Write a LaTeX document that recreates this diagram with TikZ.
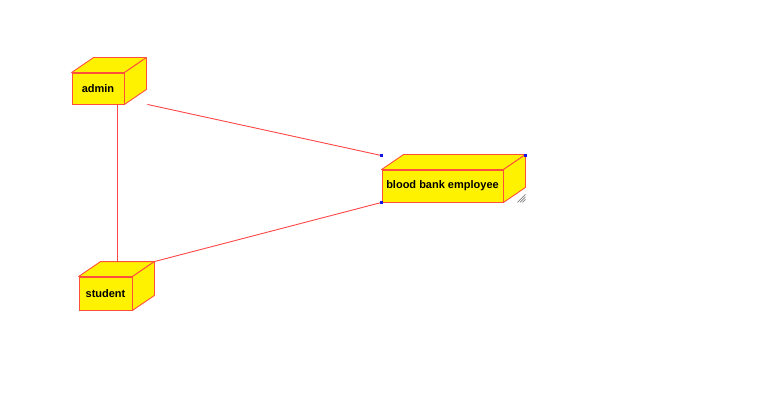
\documentclass[tikz,border=0pt]{standalone}
\usepackage{fontspec}
\setmainfont{Liberation Sans}
\begin{document}
\begin{tikzpicture}[x=1pt,y=-1pt,
  boxred/.style={draw={rgb,255:red,255;green,80;blue,60}},
  nodebox/.style={boxred, fill=yellow, line width=0.9pt, font=\fontsize{11}{13}\selectfont\bfseries, inner sep=0pt},
  face/.style={boxred, fill=yellow, line width=0.9pt, line join=round},
  conn/.style={draw={rgb,255:red,255;green,70;blue,70}, line width=0.9pt},
  handle/.style={fill={rgb,255:red,20;green,20;blue,230}, draw=none},
  hatch/.style={draw=gray, line width=0.6pt}
]
\useasboundingbox (0,0) rectangle (781,406);
% fronts
\node[nodebox, minimum width=52pt, minimum height=31pt] (admin) at (98,88.5) {admin};
\node[nodebox, minimum width=53pt, minimum height=33pt] (student) at (105.5,293.5) {student};
\node[nodebox, minimum width=121pt, minimum height=32pt] (bbe) at (442.5,186) {blood bank employee};
% 3D faces
\foreach \n in {admin,student,bbe}{
  \draw[face] (\n.north west) -- ++(22,-15) -- ([shift={(22,-15)}]\n.north east) -- (\n.north east) -- cycle;
  \draw[face] (\n.north east) -- ++(22,-15) -- ([shift={(22,-15)}]\n.south east) -- (\n.south east) -- cycle;
}
% connector end points
\coordinate (aS) at ([xshift=19pt]admin.south);
\coordinate (aE) at ([xshift=23pt]admin.south east);
\coordinate (sT) at ([shift={(11.5,-15)}]student.north);
\coordinate (sTR) at ([shift={(22,-15)}]student.north east);
\coordinate (bTL) at ([shift={(0,-14)}]bbe.north west);
\coordinate (bBL) at (bbe.south west);
\coordinate (bTR) at ([shift={(22,-14)}]bbe.north east);
% connectors
\draw[conn] (aS) -- (sT);
\draw[conn] (aE) -- (bTL);
\draw[conn] (sTR) -- (bBL);
% selection handles
\fill[handle] ([shift={(-1.5,-1.5)}]bTL) rectangle ++(3,3);
\fill[handle] ([shift={(-1.5,-1.5)}]bTR) rectangle ++(3,3);
\fill[handle] ([shift={(-1.5,-1.5)}]bBL) rectangle ++(3,3);
% resize hatch
\coordinate (h) at ([shift={(22,0)}]bbe.south east);
\draw[hatch] ([shift={(-8,0)}]h) -- ([shift={(0,-8)}]h);
\draw[hatch] ([shift={(-5.5,0)}]h) -- ([shift={(0,-5.5)}]h);
\draw[hatch] ([shift={(-3,0)}]h) -- ([shift={(0,-3)}]h);
\end{tikzpicture}
\end{document}
